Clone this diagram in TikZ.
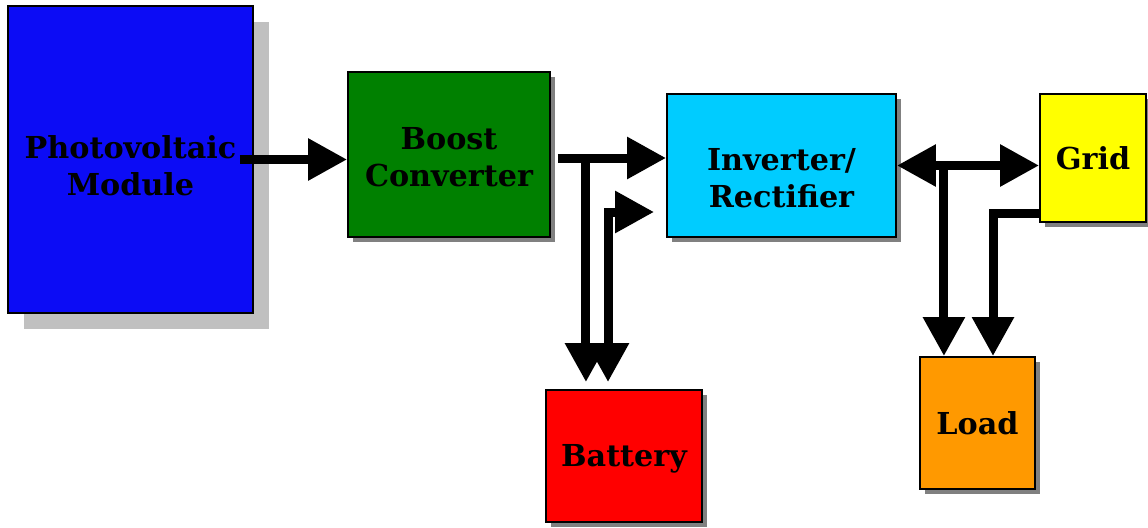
\documentclass[tikz,border=0pt]{standalone}
\usepackage{fontspec}
\setmainfont{DejaVu Serif}
\usepackage{tikz}
\usetikzlibrary{arrows.meta,calc,shadows}
\usepackage{xcolor}
\definecolor{pvblue}{RGB}{12,12,245}
\definecolor{boostgreen}{RGB}{0,128,0}
\definecolor{invcyan}{RGB}{0,204,255}
\definecolor{gridyellow}{RGB}{255,255,0}
\definecolor{loadorange}{RGB}{255,153,0}
\definecolor{battred}{RGB}{255,0,0}
\definecolor{shadowgray}{RGB}{128,128,128}
\definecolor{pvshadow}{RGB}{192,192,192}

\begin{document}
\begin{tikzpicture}[x=0.02cm,y=-0.02cm,
  block/.style={draw,line width=1.1pt,inner sep=0pt},
  smallshadow/.style={general shadow={fill=shadowgray,shadow xshift=0.1cm,shadow yshift=-0.1cm}},
  lbl/.style={align=center,font=\fontsize{17.2}{21}\selectfont\bfseries},
  flow/.style={line width=0.18cm,-{Triangle[length=0.78cm,width=0.8cm]}},
  flowboth/.style={line width=0.18cm,{Triangle[length=0.78cm,width=0.8cm]}-{Triangle[length=0.78cm,width=0.8cm]}}]
  \useasboundingbox (0,0) rectangle (1148,527);
  % blocks
  \node[block,fill=pvblue,minimum width=4.9cm,minimum height=6.14cm,
    general shadow={fill=pvshadow,shadow xshift=0.32cm,shadow yshift=-0.32cm},
    label={[lbl,yshift=-0.12cm]center:Photovoltaic\\Module}] (pv) at (130.5,159.5) {};
  \node[block,smallshadow,fill=boostgreen,minimum width=4.04cm,minimum height=3.3cm,
    label={[lbl,yshift=-0.06cm]center:Boost\\Converter}] (boost) at (449,154.5) {};
  \node[block,smallshadow,fill=invcyan,minimum width=4.58cm,minimum height=2.86cm,
    label={[lbl,yshift=-0.26cm]center:Inverter/\\Rectifier}] (inv) at (781.5,165.5) {};
  \node[block,smallshadow,fill=gridyellow,minimum width=2.12cm,minimum height=2.56cm,
    label={[lbl]center:Grid}] (grid) at (1093,158) {};
  \node[block,smallshadow,fill=loadorange,minimum width=2.3cm,minimum height=2.64cm,
    label={[lbl]center:Load}] (load) at (977.5,423) {};
  \node[block,smallshadow,fill=battred,minimum width=3.12cm,minimum height=2.64cm,
    label={[lbl,yshift=-0.06cm]center:Battery}] (batt) at (624,456) {};
  % power flow
  \draw[flow] ([xshift=-0.28cm]pv.east) -- (pv.east -| boost.west);
  \coordinate (outB) at ($(boost.east)+(7,3.5)$);
  \draw[flow] (outB) -- (outB -| inv.west);
  \coordinate (tapB) at ($(outB)+(28,0)$);
  \draw[flow,shorten >=0.14cm] (tapB) -- (tapB |- batt.north);
  \coordinate (retB) at (608,212);
  \draw[flowboth,shorten <=0.14cm,shorten >=0.24cm] (retB |- batt.north) -- (retB) -- (retB -| inv.west);
  \draw[flowboth] (inv.east) -- (inv.east -| grid.west);
  \coordinate (tapL) at ($(inv.east)+(47,0)$);
  \draw[flow] (tapL) -- (tapL |- load.north);
  \coordinate (retL) at (993,213);
  \draw[flow] (retL -| grid.west) -- (retL) -- (retL |- load.north);
\end{tikzpicture}
\end{document}
